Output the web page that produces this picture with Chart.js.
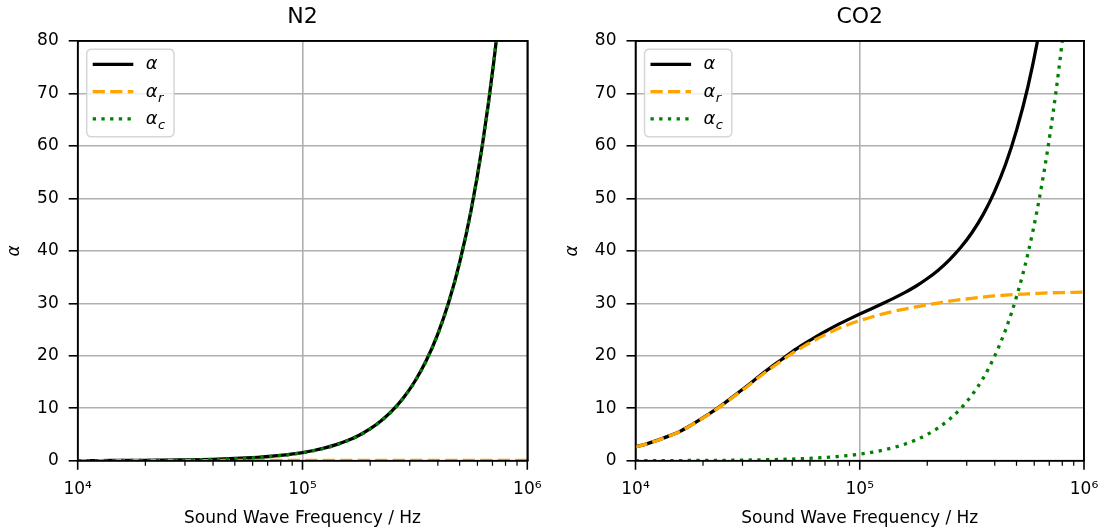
<!DOCTYPE html>
<html><head><meta charset="utf-8">
<script src="https://cdn.jsdelivr.net/npm/chart.js@4.4.1/dist/chart.umd.min.js"></script>
<style>
html,body{margin:0;padding:0;background:#fff;}
#wrap{position:relative;width:1104px;height:530px;overflow:hidden;}
.box{position:absolute;top:0;width:552px;height:530px;}
</style></head><body>
<div id="wrap">
  <div class="box" style="left:0"><canvas id="c1"></canvas></div>
  <div class="box" style="left:552px"><canvas id="c2"></canvas></div>
</div>
<script>
// ---------------- data ----------------
const FREQ = [10000, 11220, 12589, 14125, 15849, 17783, 19953, 22387, 25119, 28184,
  31623, 35481, 39811, 44668, 50119, 56234, 63096, 70795, 79433, 89125,
  100000, 112202, 125893, 141254, 158489, 177828, 199526, 223872, 251189, 281838,
  316228, 354813, 398107, 446684, 501187, 562341, 630957, 707946, 794328, 891251, 1000000];

const PANEL_TITLES = ['N2', 'CO2'];

// N2
const N2_ALPHA = [0.019,0.024,0.030,0.037,0.047,0.059,0.073,0.092,0.114,0.142,
  0.176,0.218,0.270,0.335,0.415,0.515,0.641,0.798,0.995,1.243,
  1.554,1.944,2.435,3.055,3.836,4.816,6.056,7.616,9.576,12.046,
  15.146,19.046,23.946,30.146,37.946,47.746,60.146,75.746,95.346,120.046,151.046];
const N2_ALPHA_R = [0.004,0.005,0.006,0.007,0.009,0.011,0.013,0.016,0.019,0.022,
  0.025,0.028,0.031,0.034,0.036,0.038,0.040,0.041,0.042,0.043,
  0.044,0.044,0.045,0.045,0.045,0.046,0.046,0.046,0.046,0.046,
  0.046,0.046,0.046,0.046,0.046,0.046,0.046,0.046,0.046,0.046,0.046];
const N2_ALPHA_C = [0.015,0.019,0.024,0.030,0.038,0.048,0.060,0.076,0.095,0.120,
  0.151,0.190,0.239,0.301,0.379,0.477,0.601,0.757,0.953,1.20,
  1.51,1.90,2.39,3.01,3.79,4.77,6.01,7.57,9.53,12.0,
  15.1,19.0,23.9,30.1,37.9,47.7,60.1,75.7,95.3,120,151];

// CO2
const CO2_ALPHA = [2.61,3.22,3.92,4.73,5.63,6.84,8.15,9.56,11.08,12.70,
  14.33,16.06,17.70,19.25,20.81,22.20,23.50,24.73,25.89,26.94,
  27.95,28.92,29.93,30.94,32.04,33.25,34.68,36.32,38.29,40.63,
  43.45,46.9,51.2,56.45,63.1,71.3,81.7,94.7,110.95,131.4,157.15];
const CO2_ALPHA_R = [2.6,3.2,3.9,4.7,5.6,6.8,8.1,9.5,11.0,12.6,
  14.2,15.9,17.5,19.0,20.5,21.8,23.0,24.1,25.1,25.95,
  26.7,27.35,27.95,28.45,28.9,29.3,29.7,30.05,30.4,30.7,
  30.95,31.2,31.4,31.55,31.7,31.8,31.9,32.0,32.05,32.1,32.15];
const CO2_ALPHA_C = [0.0125,0.0157,0.0198,0.0249,0.0314,0.0395,0.0498,0.0627,0.0789,0.0993,
  0.125,0.157,0.198,0.249,0.314,0.395,0.498,0.627,0.789,0.993,
  1.25,1.57,1.98,2.49,3.14,3.95,4.98,6.27,7.89,9.93,
  12.5,15.7,19.8,24.9,31.4,39.5,49.8,62.7,78.9,99.3,125];

const X_MAJOR_TICKS = [10000, 100000, 1000000];
const X_MAJOR_LABELS = ['10⁴', '10⁵', '10⁶'];
const X_MINOR_TICKS = [20000,30000,40000,50000,60000,70000,80000,90000,
  200000,300000,400000,500000,600000,700000,800000,900000];
const Y_MIN = 0, Y_MAX = 80, Y_STEP = 10;

const LEGEND_MAIN = ['α', 'α', 'α'];
const LEGEND_SUB = ['', 'r', 'c'];
const X_TITLE = 'Sound Wave Frequency / Hz';
const Y_TITLE = 'α';

// ---------------- styles ----------------
const FONT = "'DejaVu Sans', 'Liberation Sans', sans-serif";
const STYLES = [
  {color: '#000000', dash: []},
  {color: '#ffa500', dash: [12.2, 5.3]},
  {color: '#008000', dash: [3.3, 5.4]}
];
const LW = 3.3;

function pts(arr) { return FREQ.map((f, i) => ({x: f, y: arr[i]})); }

const frameAndTicks = {
  id: 'frameAndTicks',
  afterDatasetsDraw(chart) {
    const {ctx, chartArea: a, scales} = chart;
    const x = scales.x;
    ctx.save();
    ctx.strokeStyle = '#000';
    ctx.lineWidth = 1.6;
    ctx.strokeRect(a.left, a.top, a.right - a.left, a.bottom - a.top);
    ctx.beginPath();
    X_MAJOR_TICKS.forEach(v => {
      const px = x.getPixelForValue(v);
      ctx.moveTo(px, a.bottom); ctx.lineTo(px, a.bottom + 9);
    });
    ctx.stroke();
    ctx.lineWidth = 1.2;
    ctx.beginPath();
    X_MINOR_TICKS.forEach(v => {
      const px = x.getPixelForValue(v);
      ctx.moveTo(px, a.bottom); ctx.lineTo(px, a.bottom + 5);
    });
    ctx.stroke();
    ctx.restore();
  }
};

const mplLegend = {
  id: 'mplLegend',
  afterDraw(chart) {
    const {ctx, chartArea: a} = chart;
    const x0 = a.left + 9, y0 = a.top + 8.3, w = 87.3, h = 87.4, r = 5;
    ctx.save();
    ctx.beginPath();
    ctx.moveTo(x0 + r, y0);
    ctx.lineTo(x0 + w - r, y0); ctx.quadraticCurveTo(x0 + w, y0, x0 + w, y0 + r);
    ctx.lineTo(x0 + w, y0 + h - r); ctx.quadraticCurveTo(x0 + w, y0 + h, x0 + w - r, y0 + h);
    ctx.lineTo(x0 + r, y0 + h); ctx.quadraticCurveTo(x0, y0 + h, x0, y0 + h - r);
    ctx.lineTo(x0, y0 + r); ctx.quadraticCurveTo(x0, y0, x0 + r, y0);
    ctx.closePath();
    ctx.fillStyle = 'rgba(255,255,255,0.8)';
    ctx.fill();
    ctx.strokeStyle = 'rgba(204,204,204,0.8)';
    ctx.lineWidth = 1.5;
    ctx.stroke();
    for (let i = 0; i < 3; i++) {
      const ry = y0 + 15 + i * 27.3;
      ctx.beginPath();
      ctx.setLineDash(STYLES[i].dash);
      ctx.lineCap = 'butt';
      ctx.strokeStyle = STYLES[i].color;
      ctx.lineWidth = LW;
      ctx.moveTo(x0 + 6, ry); ctx.lineTo(x0 + 46.6, ry);
      ctx.stroke();
      ctx.setLineDash([]);
      ctx.fillStyle = '#000';
      ctx.textBaseline = 'alphabetic';
      ctx.textAlign = 'left';
      ctx.font = 'italic 18px ' + FONT;
      const tx = x0 + 59;
      ctx.fillText(LEGEND_MAIN[i], tx, ry + 5);
      if (LEGEND_SUB[i]) {
        const wA = ctx.measureText(LEGEND_MAIN[i]).width;
        ctx.font = 'italic 13px ' + FONT;
        ctx.fillText(LEGEND_SUB[i], tx + wA + 0.5, ry + 10);
      }
    }
    ctx.restore();
  }
};

function makeChart(id, title, a, ar, ac, g) {
  const data = [a, ar, ac];
  const orders = [3, 2, 1];
  return new Chart(document.getElementById(id), {
    type: 'line',
    data: {
      datasets: data.map((arr, i) => ({
        label: LEGEND_MAIN[i] + LEGEND_SUB[i],
        data: pts(arr),
        borderColor: STYLES[i].color,
        borderDash: STYLES[i].dash,
        borderWidth: LW,
        borderCapStyle: 'butt',
        pointRadius: 0,
        fill: false,
        cubicInterpolationMode: 'monotone',
        clip: 0,
        order: orders[i]
      }))
    },
    options: {
      responsive: true, maintainAspectRatio: false, animation: false, devicePixelRatio: 1,
      layout: {padding: 0},
      plugins: {legend: {display: false}, tooltip: {enabled: false}, title: {display: false}},
      scales: {
        x: {
          type: 'logarithmic', position: 'bottom', min: X_MAJOR_TICKS[0], max: X_MAJOR_TICKS[2],
          afterBuildTicks: s => { s.ticks = X_MAJOR_TICKS.map(v => ({value: v, major: true})); },
          afterFit: s => { s.height = 69.3; s.paddingLeft = 0; s.paddingRight = 0; },
          ticks: {
            autoSkip: false, maxRotation: 0, minRotation: 0, padding: 19, color: '#000',
            font: {family: FONT, size: 17},
            callback: (v) => { const k = X_MAJOR_TICKS.indexOf(v); return k >= 0 ? X_MAJOR_LABELS[k] : ''; }
          },
          grid: {drawTicks: false, color: '#b0b0b0', lineWidth: 1.6},
          border: {display: true, color: '#000', width: 1.6},
          title: {display: true, text: X_TITLE, color: '#000', font: {family: FONT, size: 17}, padding: {top: 1, bottom: 1}}
        },
        xTop: {
          type: 'linear', position: 'top', min: 0, max: 1,
          ticks: {display: false}, grid: {display: false, drawTicks: false},
          border: {display: true, color: '#000', width: 1.6},
          afterFit: s => { s.height = 41; s.paddingLeft = 0; s.paddingRight = 0; },
          title: {display: true, text: title, color: '#000', font: {family: FONT, size: 22}, padding: {top: 4, bottom: 4}}
        },
        y: {
          type: 'linear', position: 'left', min: Y_MIN, max: Y_MAX,
          ticks: {stepSize: Y_STEP, padding: 10, color: '#000', font: {family: FONT, size: 17}},
          grid: {color: '#b0b0b0', lineWidth: 1.6, tickLength: 9, tickColor: '#000', tickWidth: 1.6},
          border: {display: true, color: '#000', width: 1.6},
          afterFit: s => { s.width = g.yW; s.paddingTop = 0; s.paddingBottom = 0; },
          title: {display: true, text: Y_TITLE, color: '#000', font: {family: FONT, size: 17, style: 'italic'}, padding: {top: g.tp, bottom: g.tp}}
        },
        yRight: {
          type: 'linear', position: 'right', min: 0, max: 1,
          ticks: {display: false}, grid: {display: false, drawTicks: false},
          border: {display: true, color: '#000', width: 1.6},
          afterFit: s => { s.width = g.y2W; s.paddingTop = 0; s.paddingBottom = 0; }
        }
      }
    },
    plugins: [frameAndTicks, mplLegend]
  });
}

makeChart('c1', PANEL_TITLES[0], N2_ALPHA, N2_ALPHA_R, N2_ALPHA_C, {yW: 77.7, y2W: 24.7, tp: 4.8});
makeChart('c2', PANEL_TITLES[1], CO2_ALPHA, CO2_ALPHA_R, CO2_ALPHA_C, {yW: 83.5, y2W: 20, tp: 10.8});
</script>
</body></html>
